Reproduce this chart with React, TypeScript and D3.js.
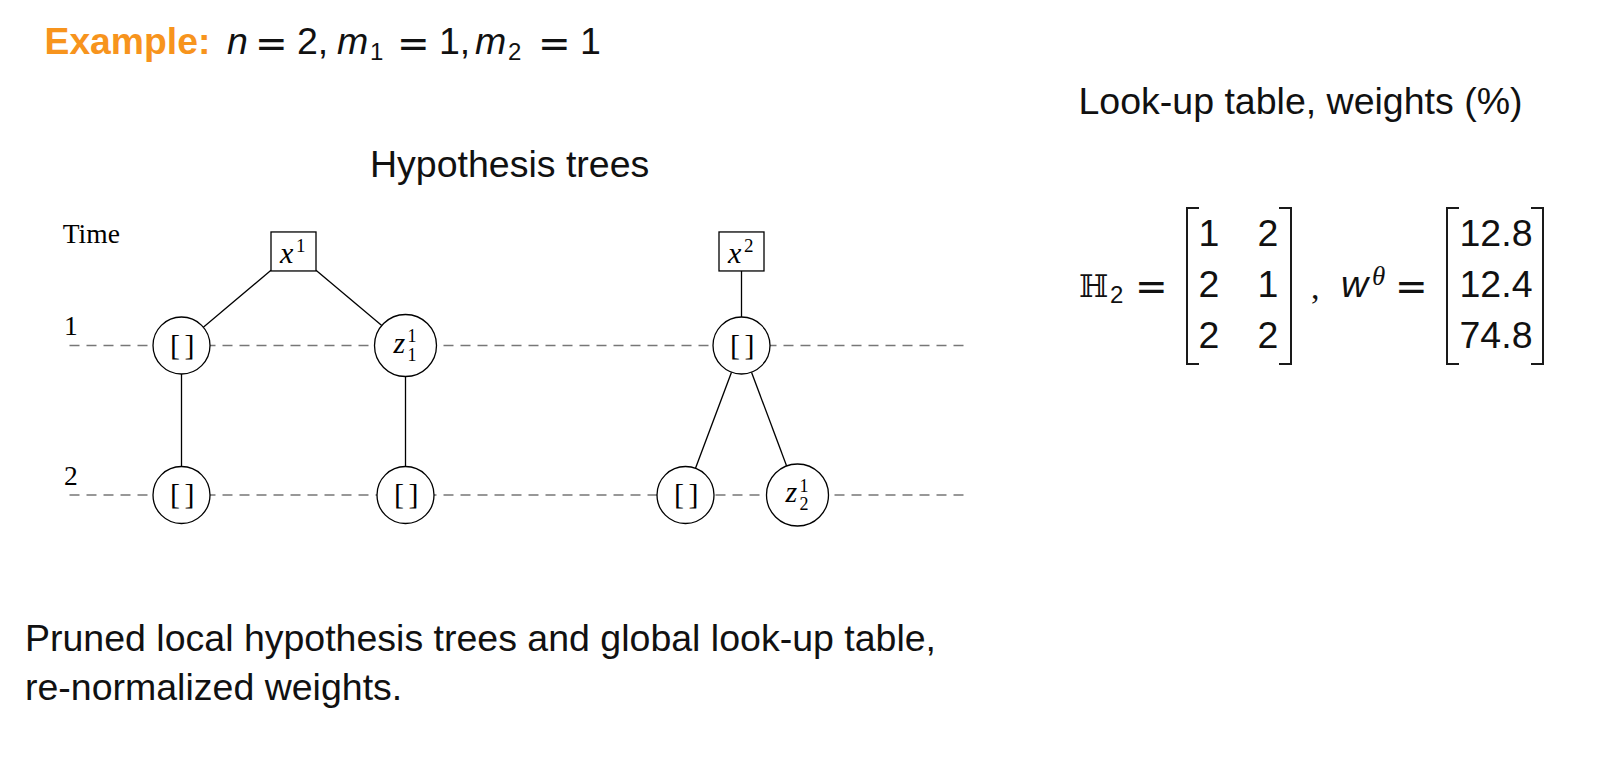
import React from 'react';
import * as d3 from 'd3';

const W = 1617;
const H = 777;

// ---- data ----
const timeSteps = [1, 2];
const rootLevel = 0.371; // vertical level of the measurement boxes (in time units)

type TNode = { id: string; kind: 'box' | 'circle'; time: number; pos: number; base: string; sup?: string; sub?: string; parent?: string };

const treeNodes: TNode[] = [
  { id: 'x1', kind: 'box', time: rootLevel, pos: 2, base: 'x', sup: '1' },
  { id: 'x2', kind: 'box', time: rootLevel, pos: 10, base: 'x', sup: '2' },
  { id: 'a1', kind: 'circle', time: 1, pos: 0, base: '[]', parent: 'x1' },
  { id: 'b1', kind: 'circle', time: 1, pos: 4, base: 'z', sup: '1', sub: '1', parent: 'x1' },
  { id: 'a2', kind: 'circle', time: 2, pos: 0, base: '[]', parent: 'a1' },
  { id: 'b2', kind: 'circle', time: 2, pos: 4, base: '[]', parent: 'b1' },
  { id: 'c1', kind: 'circle', time: 1, pos: 10, base: '[]', parent: 'x2' },
  { id: 'c2', kind: 'circle', time: 2, pos: 9, base: '[]', parent: 'c1' },
  { id: 'd2', kind: 'circle', time: 2, pos: 11, base: 'z', sup: '1', sub: '2', parent: 'c1' },
];

const lineExtent = [-2, 14];

const lookupRows = [
  [1, 2],
  [2, 1],
  [2, 2],
];
const weights = [12.8, 12.4, 74.8];

// ---- styling ----
const SANS = '"Liberation Sans", Arial, Helvetica, sans-serif';
const SERIF = '"Liberation Serif", "Times New Roman", serif';
const TEXT = '#111';
const ORANGE = '#f7941d';
const FS = 37.5;
const SUBFS = 24;

// ---- scales ----
const xT = d3.scaleLinear().domain([0, 1]).range([181.5, 237.5]);
const yT = d3.scaleLinear().domain([1, 2]).range([345.5, 495]);
const rowY = d3.scaleLinear().domain([0, 2]).range([245.5, 347.5]);
const m1Col = d3.scaleLinear().domain([0, 1]).range([1209, 1268]);
const m2Col = 1496;

const BOX_W = 45;
const BOX_H = 39;
const radius = (n: TNode) => (n.base === 'z' ? 31 : 28.5);

const nodeById = new Map(treeNodes.map((n) => [n.id, n]));

function border(n: TNode, tx: number, ty: number) {
  const cx = xT(n.pos);
  const cy = yT(n.time);
  const dx = tx - cx;
  const dy = ty - cy;
  const len = Math.hypot(dx, dy);
  if (n.kind === 'circle') {
    const r = radius(n);
    return [cx + (dx / len) * r, cy + (dy / len) * r];
  }
  const t = Math.min(Math.abs(dx) > 1e-6 ? BOX_W / 2 / Math.abs(dx) : Infinity, Math.abs(dy) > 1e-6 ? BOX_H / 2 / Math.abs(dy) : Infinity);
  return [cx + dx * t, cy + dy * t];
}

const bracketLine = d3.line<[number, number]>();

function Bracket({ x, top, bottom, side }: { x: number; top: number; bottom: number; side: 'l' | 'r' }) {
  const s = side === 'l' ? 12 : -12;
  const d = bracketLine([
    [x + s, top],
    [x, top],
    [x, bottom],
    [x + s, bottom],
  ]) as string;
  return <path d={d} fill="none" stroke="#1a1a1a" strokeWidth={2} strokeLinejoin="miter" />;
}

function Eq({ x, y }: { x: number; y: number }) {
  return (
    <text x={x} y={y + 3} fontFamily={'"DejaVu Sans", sans-serif'} fontSize={39} fill={TEXT}>
      =
    </text>
  );
}

function NodeLabel({ n }: { n: TNode }) {
  const cx = xT(n.pos);
  const cy = yT(n.time);
  if (n.base === '[]') {
    return (
      <text x={cx} y={cy + 9} textAnchor="middle" fontFamily={SERIF} fontSize={30} fill="#000" letterSpacing={-1.5}>
        [ ]
      </text>
    );
  }
  if (n.kind === 'box') {
    return (
      <g>
        <text x={cx - 13.5} y={cy + 11.5} fontFamily={SERIF} fontStyle="italic" fontSize={30} fill="#000">
          {n.base}
        </text>
        <text x={cx + 2.5} y={cy + 1} fontFamily={SERIF} fontSize={19} fill="#000">
          {n.sup}
        </text>
      </g>
    );
  }
  return (
    <g>
      <text x={cx - 12} y={cy + 7} fontFamily={SERIF} fontStyle="italic" fontSize={30} fill="#000">
        {n.base}
      </text>
      <text x={cx + 2} y={cy - 3.5} fontFamily={SERIF} fontSize={18} fill="#000">
        {n.sup}
      </text>
      <text x={cx + 2} y={cy + 15} fontFamily={SERIF} fontSize={18} fill="#000">
        {n.sub}
      </text>
    </g>
  );
}

export default function App() {
  const edges = treeNodes
    .filter((n) => n.parent)
    .map((n) => {
      const p = nodeById.get(n.parent!)!;
      const [x1, y1] = border(p, xT(n.pos), yT(n.time));
      const [x2, y2] = border(n, xT(p.pos), yT(p.time));
      return { id: p.id + '-' + n.id, x1, y1, x2, y2 };
    });

  const mTop = 208;
  const mBottom = 364;

  return (
    <svg width={W} height={H} style={{ position: 'absolute', left: 0, top: 0, background: '#fff' }}>
      <rect width={W} height={H} fill="#fff" />

      {/* title line */}
      <text x={44.5} y={54} fontFamily={SANS} fontSize={37.3} fontWeight="bold" fill={ORANGE}>
        Example:
      </text>
      <text x={227} y={54} fontFamily={SANS} fontSize={FS} fontStyle="italic" fill={TEXT}>n</text>
      <Eq x={255} y={54} />
      <text x={297} y={54} fontFamily={SANS} fontSize={FS} fill={TEXT}>2,</text>
      <text x={337} y={54} fontFamily={SANS} fontSize={FS} fontStyle="italic" fill={TEXT}>m</text>
      <text x={370} y={60} fontFamily={SANS} fontSize={SUBFS} fill={TEXT}>1</text>
      <Eq x={397} y={54} />
      <text x={439} y={54} fontFamily={SANS} fontSize={FS} fill={TEXT}>1,</text>
      <text x={475} y={54} fontFamily={SANS} fontSize={FS} fontStyle="italic" fill={TEXT}>m</text>
      <text x={508} y={60} fontFamily={SANS} fontSize={SUBFS} fill={TEXT}>2</text>
      <Eq x={538} y={54} />
      <text x={580} y={54} fontFamily={SANS} fontSize={FS} fill={TEXT}>1</text>

      {/* section titles */}
      <text x={370} y={177} fontFamily={SANS} fontSize={FS} fill={TEXT}>
        Hypothesis trees
      </text>
      <text x={1078.5} y={114} fontFamily={SANS} fontSize={FS} fill={TEXT}>
        Look-up table, weights (%)
      </text>

      {/* tree: time axis */}
      <text x={xT(-2.12)} y={243} fontFamily={SERIF} fontSize={27.5} fill="#000">
        Time
      </text>
      {timeSteps.map((t) => (
        <g key={t}>
          <text x={xT(-2.1)} y={yT(t) - 10.5} fontFamily={SERIF} fontSize={27.5} fill="#000">
            {t}
          </text>
          <line
            x1={xT(lineExtent[0])}
            x2={xT(lineExtent[1])}
            y1={yT(t)}
            y2={yT(t)}
            stroke="#777"
            strokeWidth={1.3}
            strokeDasharray="10 7"
          />
        </g>
      ))}

      {/* edges */}
      {edges.map((e) => (
        <line key={e.id} x1={e.x1} y1={e.y1} x2={e.x2} y2={e.y2} stroke="#000" strokeWidth={1.3} />
      ))}

      {/* nodes */}
      {treeNodes.map((n) => (
        <g key={n.id}>
          {n.kind === 'box' ? (
            <rect
              x={xT(n.pos) - BOX_W / 2}
              y={yT(n.time) - BOX_H / 2}
              width={BOX_W}
              height={BOX_H}
              fill="#fff"
              stroke="#000"
              strokeWidth={1.3}
            />
          ) : (
            <circle cx={xT(n.pos)} cy={yT(n.time)} r={radius(n)} fill="#fff" stroke="#000" strokeWidth={1.3} />
          )}
          <NodeLabel n={n} />
        </g>
      ))}

      {/* look-up table formula */}
      <text x={1079} y={297} fontFamily={'"DejaVu Serif", serif'} fontSize={31} fill={TEXT}>
        ℍ
      </text>
      <text x={1110} y={303} fontFamily={SANS} fontSize={SUBFS} fill={TEXT}>2</text>
      <Eq x={1135} y={297} />

      <Bracket x={1187} top={mTop} bottom={mBottom} side="l" />
      <Bracket x={1291} top={mTop} bottom={mBottom} side="r" />
      {lookupRows.map((row, i) =>
        row.map((v, j) => (
          <text key={i + '-' + j} x={m1Col(j)} y={rowY(i)} textAnchor="middle" fontFamily={SANS} fontSize={FS} fill={TEXT}>
            {v}
          </text>
        ))
      )}

      <text x={1311} y={299} fontFamily={SERIF} fontSize={34} fill={TEXT}>,</text>

      <text x={1341} y={297} fontFamily={SANS} fontSize={FS} fontStyle="italic" fill={TEXT}>w</text>
      <text x={1372} y={285} fontFamily={SERIF} fontSize={27} fontStyle="italic" fill={TEXT}>θ</text>
      <Eq x={1395} y={297} />

      <Bracket x={1447} top={mTop} bottom={mBottom} side="l" />
      <Bracket x={1543} top={mTop} bottom={mBottom} side="r" />
      {weights.map((v, i) => (
        <text key={i} x={m2Col} y={rowY(i)} textAnchor="middle" fontFamily={SANS} fontSize={FS} fill={TEXT}>
          {v.toFixed(1)}
        </text>
      ))}

      {/* caption */}
      <text x={25} y={651} fontFamily={SANS} fontSize={FS} fill={TEXT}>
        Pruned local hypothesis trees and global look-up table,
      </text>
      <text x={25} y={700} fontFamily={SANS} fontSize={FS} fill={TEXT}>
        re-normalized weights.
      </text>
    </svg>
  );
}
